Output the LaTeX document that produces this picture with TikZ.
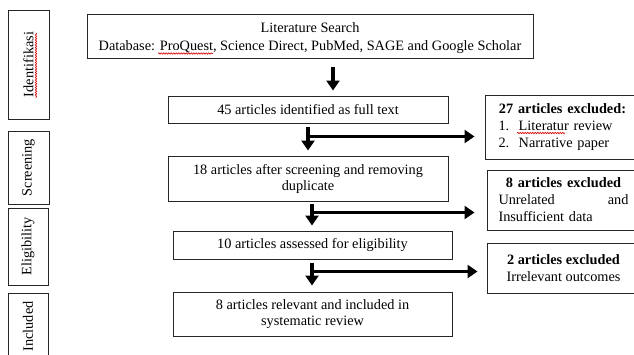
\documentclass[tikz,border=0pt]{standalone}
\usepackage{fontspec}
\setmainfont{Liberation Serif}
\usetikzlibrary{arrows.meta,decorations.pathmorphing}
\begin{document}
\begin{tikzpicture}[x=1pt,y=-1pt,
  box/.style={draw=black!85, line width=1pt, inner sep=0pt, align=center,
    font=\fontsize{14.3}{16}\selectfont},
  phase/.style={box, rotate=90},
  xbox/.style={box, font=\fontsize{14.3}{17}\selectfont},
  arr/.style={line width=3.5pt, -{Triangle[length=10pt,width=13pt]}},
  spell/.style={draw=red!85!black, line width=0.6pt, decorate,
    decoration={snake, amplitude=0.7pt, segment length=2.5pt}}
]
\useasboundingbox (0,0) rectangle (634,354);
\clip (0,0) rectangle (634,354);
\fill[white] (0,0) rectangle (634,354);

% phase labels
\node[phase, minimum width=109pt, minimum height=41pt] (idn) at (28.5,64.5) {Identifikasi};
\node[phase, minimum width=73pt, minimum height=41pt] (scr) at (28.5,167.5) {Screening};
\node[phase, minimum width=77pt, minimum height=40pt] (eli) at (28,246.5) {Eligibility};
\node[phase, minimum width=67pt, minimum height=40pt] (inc) at (28,326.5) {Included};

% main flow
\node[box, font=\fontsize{14.3}{18}\selectfont, minimum width=446pt, minimum height=44pt] (lit) at (310,36)
  {\rule{0pt}{13.5pt}Literature Search\\Database: ProQuest, Science Direct, PubMed, SAGE and Google Scholar};
\node[box, minimum width=280pt, minimum height=27pt] (b45) at (308,109.5)
  {45 articles identified as full text};
\node[box, minimum width=280pt, minimum height=45pt] (b18) at (308,178.5)
  {18 articles after screening and removing\\duplicate};
\node[box, minimum width=279pt, minimum height=28pt] (b10) at (312.5,245)
  {10 articles assessed for eligibility};
\node[box, minimum width=279pt, minimum height=44pt] (b8) at (312.5,314)
  {\rule{0pt}{11pt}8 articles relevant and included in\\systematic review};

% exclusions
\node[xbox, align=left, text width=128pt, minimum width=155pt, minimum height=64pt] (e27) at (562.5,127)
  {\makebox[128pt][c]{\bfseries 27 articles excluded:}\\
   1.\hspace{9.5pt}Literatur review\\
   2.\hspace{9.5pt}Narrative paper};
\node[xbox, align=left, text width=130pt, minimum width=153pt, minimum height=60pt] (e8) at (563.5,200)
  {\makebox[130pt][c]{\bfseries 8 articles excluded}\\
   \makebox[130pt][s]{Unrelated\hfill and}\\
   Insufficient data};
\node[xbox, minimum width=153pt, minimum height=50pt] (e2) at (563.5,268)
  {\textbf{2 articles excluded}\\Irrelevant outcomes};

% arrows
\draw[arr, shorten <=8pt, shorten >=5pt] ([xshift=23pt]lit.south) -- ([xshift=25pt]b45.north);

\draw[arr, shorten <=3pt, shorten >=5pt] (b45.south) -- (b18.north);
\coordinate (h1) at ([yshift=-13pt]b45.south);
\draw[arr, shorten >=10pt] ([xshift=-2pt]h1) -- (h1 -| e27.west);

\draw[arr, shorten <=2pt, shorten >=5pt] ([xshift=4pt]b18.south) -- ([xshift=-0.5pt]b10.north);
\coordinate (h2) at ([xshift=4pt,yshift=-11pt]b18.south);
\draw[arr, shorten >=12pt] ([xshift=-2pt]h2) -- (h2 -| e8.west);

\draw[arr, shorten <=3pt, shorten >=6pt] ([xshift=-0.5pt]b10.south) -- ([xshift=-0.5pt]b8.north);
\coordinate (h3) at ([xshift=-0.5pt,yshift=-12pt]b10.south);
\draw[arr, shorten >=9pt] ([xshift=-2pt]h3) -- (h3 -| e2.west);

% spell-check marks
\draw[spell] (158,53.5) -- (213,53.5);
\draw[spell] (36,33) -- (36,98);
\draw[spell] (517,133) -- (565,133);
\end{tikzpicture}
\end{document}
